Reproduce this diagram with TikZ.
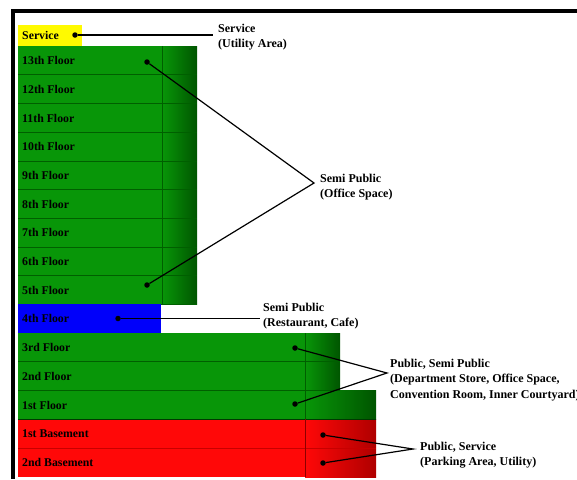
\documentclass[tikz,border=0pt]{standalone}
\usepackage{fontspec}
\setmainfont{Liberation Serif}
\definecolor{flgreen}{RGB}{8,150,8}
\definecolor{flgreendk}{RGB}{0,85,0}
\definecolor{sepgreen}{RGB}{0,95,0}
\definecolor{flred}{RGB}{255,8,8}
\definecolor{flreddk}{RGB}{175,0,0}
\definecolor{sepred}{RGB}{200,0,0}
\definecolor{flblue}{RGB}{0,0,250}
\definecolor{svcyellow}{RGB}{255,250,0}
\begin{document}
\begin{tikzpicture}[x=1pt,y=-1pt,
	flbl/.style={font=\bfseries\fontsize{11.8}{13}\selectfont,anchor=west,inner sep=0pt},
	lbl/.style={font=\bfseries\fontsize{12}{15.5}\selectfont,align=left,anchor=base west,inner sep=0pt},
	dot/.style={circle,fill=black,inner sep=0pt,minimum size=5.5pt},
	leader/.style={line width=1.2pt},
	sep/.style={sepgreen,line width=0.6pt}]
		\useasboundingbox (0,0) rectangle (577,479);
		%Rahmen
		\draw [line width=3.5pt] (13,479) -- (13,11) -- (577,11);
		%Service
		\fill [svcyellow] (18,25) rectangle (82,46);
		\node [flbl] (svc) at (22,35.5) {Service};
		%Turm
		\fill [flgreen] (18,46) rectangle (162,304.3);
		\shade [left color=flgreen,right color=flgreendk] (162,46) rectangle (197,304.3);
		\draw [sep] (162,46) -- (162,304.3);
		\foreach \n [count=\k from 0] in {13th,12th,11th,10th,9th,8th,7th,6th,5th}{
			\node [flbl] (fl\n) at (22,{46+28.7*\k+14.6}) {\n{} Floor};
			\draw [sep] (18,{46+28.7*(\k+1)}) -- (197,{46+28.7*(\k+1)});
		}
		%4th Floor
		\fill [flblue] (18,304.3) rectangle (161,333);
		\node [flbl] (fl4th) at (22,318.9) {4th Floor};
		%Sockel
		\fill [flgreen] (18,333) rectangle (305,419);
		\shade [left color=flgreen,right color=flgreendk] (305,333) rectangle (340,390.4);
		\shade [left color=flgreen,right color=flgreendk] (305,390.4) rectangle (376,419);
		\draw [sep] (18,361.7) -- (340,361.7);
		\draw [sep] (18,390.4) -- (340,390.4);
		\node [flbl] (fl3rd) at (22,347.6) {3rd Floor};
		\node [flbl] (fl2nd) at (22,376.3) {2nd Floor};
		\node [flbl] (fl1st) at (22,405) {1st Floor};
		%Basement
		\fill [flred] (18,419) rectangle (305,477);
		\shade [left color=flred,right color=flreddk] (305,419) rectangle (376,477);
		\draw [sepgreen!60!black,line width=0.8pt] (18,419) -- (376,419);
		\draw [sepred,line width=0.6pt] (18,447.8) -- (376,447.8);
		\draw [sep] (305,333) -- (305,419);
		\draw [sepred!70!black,line width=0.6pt] (305,419) -- (305,477);
		\node [flbl] (b1) at (22,433.7) {1st Basement};
		\node [flbl] (b2) at (22,462.4) {2nd Basement};
		%Punkte
		\node [dot] (d1) at (75,35) {};
		\node [dot] (d2) at (147,62) {};
		\node [dot] (d3) at (147,285) {};
		\node [dot] (d4) at (118,318.5) {};
		\node [dot] (d5) at (295,348) {};
		\node [dot] (d6) at (295,404) {};
		\node [dot] (d7) at (323,435) {};
		\node [dot] (d8) at (323,463) {};
		%Beschriftung
		\node [lbl] (t1) at (218,47.5) {Service\\(Utility Area)};
		\node [lbl] (t2) at (320,197.5) {Semi Public\\(Office Space)};
		\node [lbl] (t3) at (263,326.5) {Semi Public\\(Restaurant, Cafe)};
		\node [lbl] (t4) at (390,398) {Public, Semi Public\\(Department Store, Office Space,\\Convention Room, Inner Courtyard)};
		\node [lbl] (t5) at (420,465.5) {Public, Service\\(Parking Area, Utility)};
		\coordinate (c1) at (213,35);
		\coordinate (c2) at (314,183);
		\coordinate (c3) at (260,318.5);
		\coordinate (c4) at (387,373);
		\coordinate (c5) at (413,449);
		%Linien
		\draw [leader] (d1) -- (c1);
		\draw [leader] (d2) -- (c2) -- (d3);
		\draw [leader] (d4) -- (c3);
		\draw [leader] (d5) -- (c4) -- (d6);
		\draw [leader] (d7) -- (c5) -- (d8);
		\end{tikzpicture}
\end{document}
